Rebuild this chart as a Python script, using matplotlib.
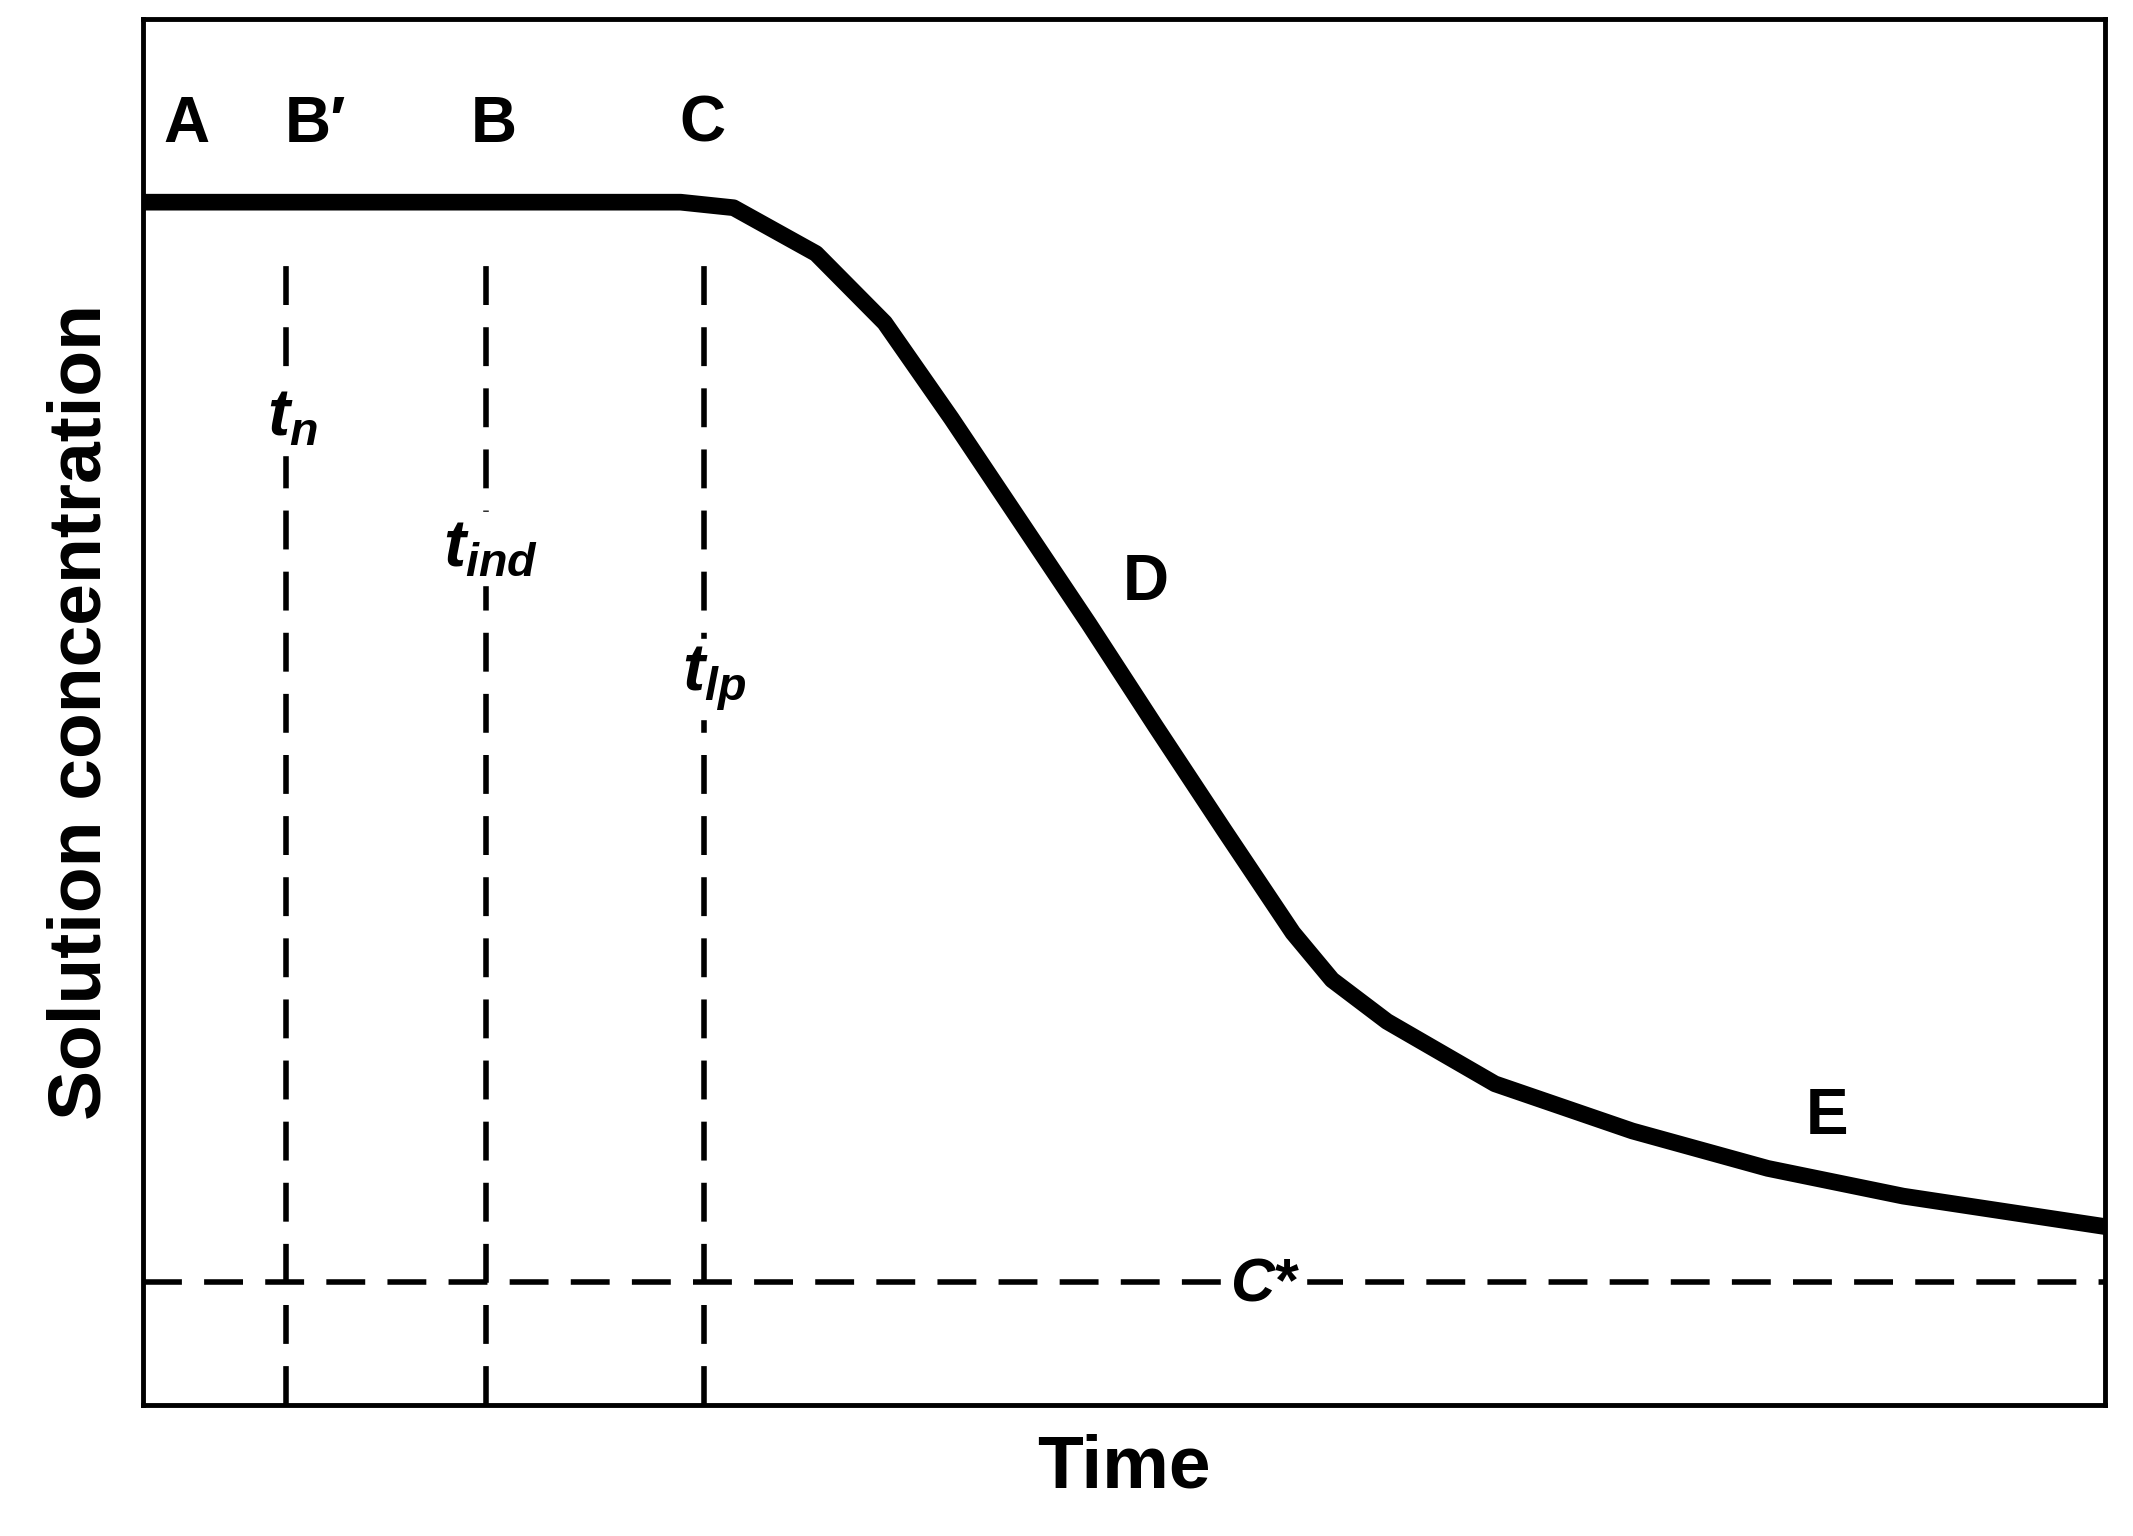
import matplotlib.pyplot as plt

plt.rcParams["font.family"] = ["Liberation Sans", "DejaVu Sans"]
plt.rcParams["mathtext.fontset"] = "custom"
plt.rcParams["mathtext.it"] = "Liberation Sans:italic:bold"
plt.rcParams["mathtext.rm"] = "Liberation Sans:bold"

# curve (axis units 0-100)
TIME = [0, 27.4, 30.1, 34.3, 37.8, 41.2, 44.7, 48.2, 51.6, 55.1, 58.6, 60.6, 63.4, 68.9, 75.9, 82.8, 89.7, 100]
CONC = [86.8, 86.8, 86.4, 83.1, 78.1, 71.2, 63.8, 56.4, 49.0, 41.5, 34.1, 30.7, 27.7, 23.2, 19.8, 17.1, 15.1, 12.9]

MARK_X = [7.3, 17.5, 28.6]
MARK_TOP = 83.8
C_STAR = 8.9

DASH = (0, (7, 4))

fig = plt.figure(figsize=(21.33, 15.36), dpi=100)
ax = fig.add_axes([0.067, 0.085, 0.92, 0.9025])
ax.set_xlim(0, 100)
ax.set_ylim(0, 100)

ax.plot(TIME, CONC, color="black", lw=12, solid_capstyle="butt",
        solid_joinstyle="round", zorder=3)
for x in MARK_X:
    ax.plot([x, x], [0, MARK_TOP], color="black", lw=4, ls=DASH)
ax.axhline(C_STAR, color="black", lw=4, ls=DASH)

bold = dict(fontsize=46, fontweight="bold", ha="center", va="center")
for lbl, x, y in [("A", 2.2, 92.4), ("B\u2032", 8.8, 92.4), ("B", 17.9, 92.4),
                  ("C", 28.5, 92.4), ("D", 51.1, 59.3), ("E", 85.8, 20.8)]:
    ax.text(x, y, lbl, **bold)

tlab = dict(fontsize=48, ha="center", va="center", backgroundcolor="white")
ax.text(7.6, 71.2, "$t_n$", **tlab)
ax.text(17.7, 61.8, "$t_{ind}$", **tlab)
ax.text(29.1, 52.4, "$t_{lp}$", **tlab)
ax.text(57.2, 8.7, "$C$*", fontsize=44, fontweight="bold", ha="center",
        va="center", backgroundcolor="white")

ax.set_xticks([])
ax.set_yticks([])
for s in ax.spines.values():
    s.set_linewidth(3.5)
ax.set_xlabel("Time", fontsize=54, fontweight="bold", labelpad=20)
ax.set_ylabel("Solution concentration", fontsize=54, fontweight="bold", labelpad=20)

fig.savefig("out.png")
